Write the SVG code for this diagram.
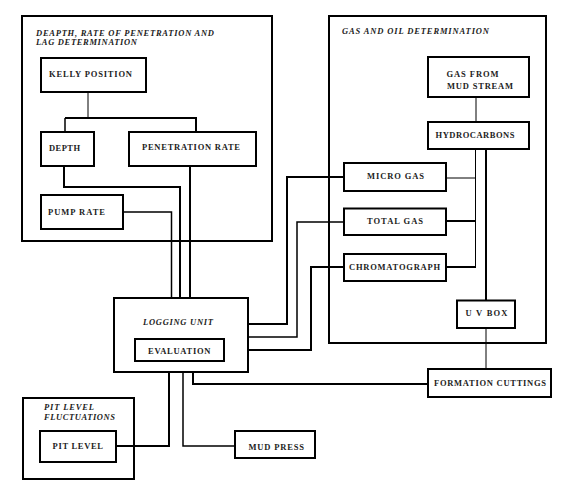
<svg xmlns="http://www.w3.org/2000/svg" width="581" height="499" viewBox="0 0 581 499">
<style>
.frame{fill:none;stroke:#000;stroke-width:2}
.box{fill:#fff;stroke:#000;stroke-width:2}
.t{font-family:"Liberation Serif","Times New Roman",serif;font-weight:bold;font-size:8.5px;fill:#222}
.ti{font-family:"Liberation Serif","Times New Roman",serif;font-weight:bold;font-style:italic;font-size:8.5px;fill:#222}
.c{fill:none;stroke:#000;stroke-linejoin:miter}
.w1{stroke-width:1}
.w15{stroke-width:1.5}
.w2{stroke-width:2}
</style>
<rect width="581" height="499" fill="#fff"/>

<g id="group-depth">
<rect class="frame" x="22" y="16" width="250" height="225"/>
<text class="ti" x="36" y="36" textLength="178" lengthAdjust="spacing">DEAPTH, RATE OF  PENETRATION AND</text>
<text class="ti" x="36" y="45" textLength="101" lengthAdjust="spacing">LAG DETERMINATION</text>
</g>
<g id="group-gas">
<rect class="frame" x="329" y="16" width="217" height="327"/>
<text class="ti" x="342" y="34" textLength="147" lengthAdjust="spacing">GAS AND OIL DETERMINATION</text>
</g>
<g id="group-pit">
<rect class="frame" x="23" y="398" width="111" height="81"/>
<text class="ti" x="44" y="410" textLength="50" lengthAdjust="spacing">PIT LEVEL</text>
<text class="ti" x="44" y="419.5" textLength="71" lengthAdjust="spacing">FLUCTUATIONS</text>
</g>

<g id="connectors">
<path class="c w1" d="M88,92 V118"/>
<path class="c w2" d="M65,118 H196 V132"/>
<path class="c w15" d="M65,118 V132"/>
<path class="c w2" d="M64,166 V187 H180 V298"/>
<path class="c w2" d="M190,166 V298"/>
<path class="c w15" d="M123,212 H171.5 V298"/>
<path class="c w2" d="M344,177 H287 V324 H248"/>
<path class="c w15" d="M344,222 H297 V337 H248"/>
<path class="c w2" d="M344,267 H311 V350 H248"/>
<path class="c w1" d="M446,178 H476"/>
<path class="c w2" d="M446,221 H476"/>
<path class="c w2" d="M446,267 H476"/>
<path class="c w1" d="M475.5,149 V268"/>
<path class="c w2" d="M486,149 V301"/>
<path class="c w1" d="M476,97 V122"/>
<path class="c w1" d="M486,328 V369"/>
<path class="c w2" d="M428,384 H193 V372"/>
<path class="c w2" d="M169,372 V446 H116"/>
<path class="c w15" d="M183,372 V446 H235"/>
</g>

<g id="kelly">
<rect class="box" x="41" y="58" width="105" height="34"/>
<text class="t" x="49" y="77" textLength="83" lengthAdjust="spacing">KELLY POSITION</text>
</g>
<g id="depth">
<rect class="box" x="41" y="132" width="53" height="34"/>
<text class="t" x="49" y="150.5" textLength="31" lengthAdjust="spacing">DEPTH</text>
</g>
<g id="penetration">
<rect class="box" x="129" y="132" width="127" height="34"/>
<text class="t" x="142" y="149.5" textLength="98" lengthAdjust="spacing">PENETRATION RATE</text>
</g>
<g id="pump">
<rect class="box" x="41" y="195" width="82" height="34"/>
<text class="t" x="48" y="215" textLength="57" lengthAdjust="spacing">PUMP RATE</text>
</g>
<g id="gasmud">
<rect class="box" x="428" y="57" width="101" height="40"/>
<text class="t" x="446.5" y="77" textLength="52" lengthAdjust="spacing">GAS FROM</text>
<text class="t" x="447" y="89" textLength="66" lengthAdjust="spacing">MUD STREAM</text>
</g>
<g id="hydro">
<rect class="box" x="428" y="122" width="101" height="27"/>
<text class="t" x="435.5" y="138" textLength="79" lengthAdjust="spacing">HYDROCARBONS</text>
</g>
<g id="micro">
<rect class="box" x="344" y="163" width="102" height="28"/>
<text class="t" x="367" y="179" textLength="57" lengthAdjust="spacing">MICRO GAS</text>
</g>
<g id="total">
<rect class="box" x="344" y="208.5" width="102" height="26.5"/>
<text class="t" x="367" y="224" textLength="56" lengthAdjust="spacing">TOTAL GAS</text>
</g>
<g id="chroma">
<rect class="box" x="344" y="254" width="102" height="27"/>
<text class="t" x="349" y="270" textLength="91" lengthAdjust="spacing">CHROMATOGRAPH</text>
</g>
<g id="uvbox">
<rect class="box" x="457" y="300.5" width="58" height="27.5"/>
<text class="t" x="465.5" y="316" textLength="42" lengthAdjust="spacing">U V BOX</text>
</g>
<g id="formation">
<rect class="box" x="428" y="369" width="123" height="28"/>
<text class="t" x="434" y="386" textLength="112" lengthAdjust="spacing">FORMATION CUTTINGS</text>
</g>
<g id="logging">
<rect class="box" x="114" y="298" width="134" height="74"/>
<text class="ti" x="143" y="324.5" textLength="70" lengthAdjust="spacing">LOGGING UNIT</text>
</g>
<g id="evaluation">
<rect class="box" x="135" y="339" width="89" height="22"/>
<text class="t" x="148" y="353.5" textLength="62.5" lengthAdjust="spacing">EVALUATION</text>
</g>
<g id="pitlevel">
<rect class="box" x="40" y="431" width="76" height="31"/>
<text class="t" x="52.5" y="449" textLength="50.5" lengthAdjust="spacing">PIT LEVEL</text>
</g>
<g id="mudpress">
<rect class="box" x="235" y="431" width="80" height="27"/>
<text class="t" x="248.5" y="449.5" textLength="55.5" lengthAdjust="spacing">MUD PRESS</text>
</g>
</svg>
